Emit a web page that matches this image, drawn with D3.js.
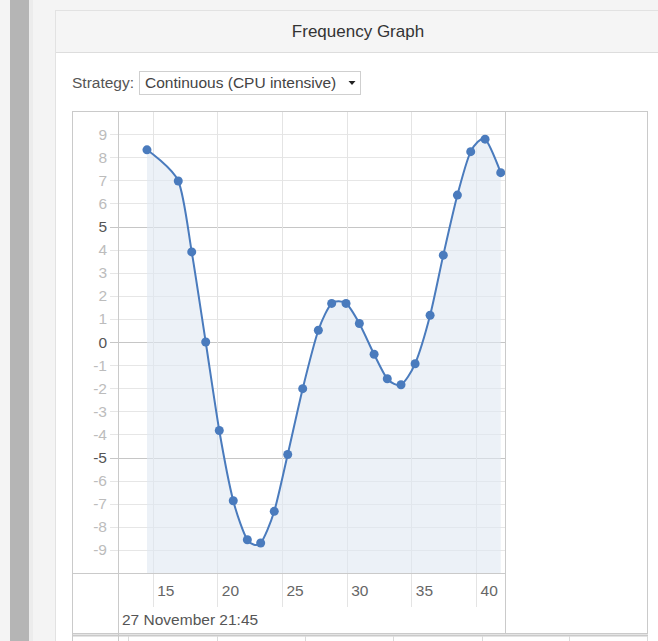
<!DOCTYPE html>
<html>
<head>
<meta charset="utf-8">
<script src="https://cdn.jsdelivr.net/npm/d3@7"></script>
<style>
  html, body { margin: 0; padding: 0; background: #f4f4f4; }
  svg { display: block; font-family: "Liberation Sans", Arial, sans-serif; }
</style>
</head>
<body>
<svg id="page" width="658" height="641"></svg>
<script>
// Sampled frequency readings (seconds past 21:45, value)
const seconds = [14.56, 16.98, 18.02, 19.10, 20.15, 21.23, 22.32, 23.35, 24.40, 25.44,
                 26.60, 27.81, 28.84, 29.95, 30.98, 32.12, 33.14, 34.20, 35.29, 36.45,
                 37.47, 38.56, 39.59, 40.70, 41.91];
const values  = [8.32, 6.97, 3.90, 0.00, -3.83, -6.87, -8.56, -8.70, -7.33, -4.87,
                 -2.02, 0.51, 1.67, 1.67, 0.80, -0.53, -1.59, -1.85, -0.94, 1.16,
                 3.76, 6.36, 8.24, 8.78, 7.33];
const xTicks = [15, 20, 25, 30, 35, 40];
const yTicks = [-9, -8, -7, -6, -5, -4, -3, -2, -1, 0, 1, 2, 3, 4, 5, 6, 7, 8, 9];
const majorY = [-5, 0, 5];
const xDomain = [12.32, 42.24];
const yDomain = [-10, 10];
const titleText = "Frequency Graph";
const strategyLabel = "Strategy:";
const strategyOption = "Continuous (CPU intensive)";
const timeLabel = "27 November 21:45";

const svg = d3.select("#page");

// ---- page chrome ----
svg.append("rect").attr("x", 0).attr("y", 0).attr("width", 658).attr("height", 641).attr("fill", "#f4f4f4");
svg.append("rect").attr("x", 10).attr("y", 0).attr("width", 19).attr("height", 641).attr("fill", "#b5b5b5");
svg.append("rect").attr("x", 29).attr("y", 0).attr("width", 4).attr("height", 641).attr("fill", "#ececec");

// panel
svg.append("rect").attr("x", 55.5).attr("y", 10.5).attr("width", 620).attr("height", 640)
  .attr("fill", "#ffffff").attr("stroke", "#e2e2e2");
svg.append("rect").attr("x", 56).attr("y", 11).attr("width", 620).attr("height", 41).attr("fill", "#f5f5f5");
svg.append("line").attr("x1", 56).attr("x2", 658).attr("y1", 52.5).attr("y2", 52.5).attr("stroke", "#dddddd");
svg.append("text").attr("x", 358).attr("y", 37).attr("text-anchor", "middle")
  .attr("font-size", 17).attr("fill", "#333").text(titleText);

// strategy selector
svg.append("text").attr("x", 72).attr("y", 88).attr("font-size", 15.5).attr("fill", "#555").text(strategyLabel);
svg.append("rect").attr("x", 139.5).attr("y", 71.5).attr("width", 221).attr("height", 23)
  .attr("fill", "#fff").attr("stroke", "#cfcfcf");
svg.append("text").attr("x", 145).attr("y", 88).attr("font-size", 15.5).attr("fill", "#444").text(strategyOption);
svg.append("path").attr("d", "M348.5,81 L355.5,81 L352,85 Z").attr("fill", "#222");

// ---- chart ----
const plot = { left: 118, right: 505, top: 111, bottom: 573 };
const x = d3.scaleLinear().domain(xDomain).range([plot.left, plot.right]);
const y = d3.scaleLinear().domain(yDomain).range([plot.bottom, plot.top]);
const data = seconds.map((s, i) => ({ s, v: values[i] }));

const g = svg.append("g");

// horizontal grid
g.selectAll("line.hgrid").data(yTicks).join("line")
  .attr("class", "hgrid")
  .attr("x1", 110).attr("x2", plot.right)
  .attr("y1", d => Math.round(y(d)) + 0.5).attr("y2", d => Math.round(y(d)) + 0.5)
  .attr("stroke", d => majorY.includes(d) ? "#c6c6c6" : "#e6e6e6");

// vertical grid (runs into the axis strip)
g.selectAll("line.vgrid").data(xTicks).join("line")
  .attr("class", "vgrid")
  .attr("x1", d => Math.round(x(d)) + 0.5).attr("x2", d => Math.round(x(d)) + 0.5)
  .attr("y1", plot.top).attr("y2", 607)
  .attr("stroke", "#e4e4e4");

// area under the curve down to the plot floor
const curve = d3.curveCardinal.tension(0.25);
g.append("path").datum(data)
  .attr("d", d3.area().x(d => x(d.s)).y0(plot.bottom).y1(d => y(d.v)).curve(curve))
  .attr("fill", "#dfe7f2").attr("fill-opacity", 0.6);

g.append("path").datum(data)
  .attr("d", d3.line().x(d => x(d.s)).y(d => y(d.v)).curve(curve))
  .attr("fill", "none").attr("stroke", "#4a7bbd").attr("stroke-width", 2);

g.selectAll("circle").data(data).join("circle")
  .attr("cx", d => x(d.s)).attr("cy", d => y(d.v)).attr("r", 4.5)
  .attr("fill", "#4a7bbd");

// y labels
g.selectAll("text.ylab").data(yTicks).join("text")
  .attr("class", "ylab")
  .attr("x", 107).attr("y", d => y(d)).attr("dy", "0.36em")
  .attr("text-anchor", "end").attr("font-size", 15.5)
  .attr("fill", d => majorY.includes(d) ? "#555" : "#bcbcbc")
  .text(d => d);

// x labels
g.selectAll("text.xlab").data(xTicks).join("text")
  .attr("class", "xlab")
  .attr("x", d => x(d) + 4.5).attr("y", 596)
  .attr("font-size", 15.5).attr("fill", "#666")
  .text(d => d);

svg.append("text").attr("x", 122).attr("y", 625).attr("font-size", 15.5).attr("fill", "#555").text(timeLabel);

// frame lines
const frame = svg.append("g").attr("stroke", "#cacaca").attr("fill", "none");
frame.append("rect").attr("x", 72.5).attr("y", 111.5).attr("width", 575).attr("height", 522);
frame.append("line").attr("x1", 118.5).attr("x2", 118.5).attr("y1", 111).attr("y2", 641);
frame.append("line").attr("x1", plot.right + 0.5).attr("x2", plot.right + 0.5).attr("y1", 111).attr("y2", 633);
frame.append("line").attr("x1", 72).attr("x2", plot.right).attr("y1", 573.5).attr("y2", 573.5);
frame.append("line").attr("x1", 72).attr("x2", 648).attr("y1", 635.5).attr("y2", 635.5).attr("stroke-width", 2);
frame.append("line").attr("x1", 72.5).attr("x2", 72.5).attr("y1", 633).attr("y2", 641);

// next table row peeking below
const rowCols = [128, 217, 305, 393, 482, 569, 647];
frame.selectAll("line.col").data(rowCols).join("line")
  .attr("class", "col")
  .attr("x1", d => d + 0.5).attr("x2", d => d + 0.5).attr("y1", 636).attr("y2", 641)
  .attr("stroke", "#dadada");
</script>
</body>
</html>
